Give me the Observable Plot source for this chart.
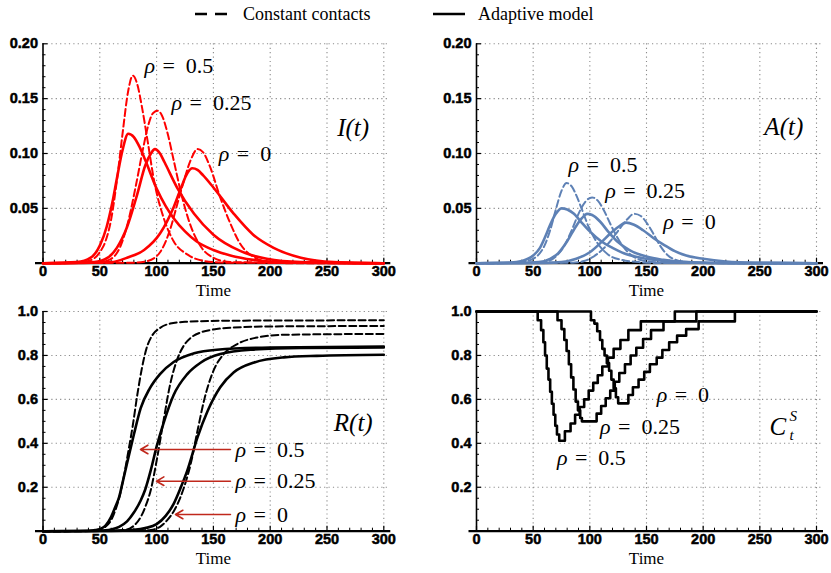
<!DOCTYPE html>
<html>
<head>
<meta charset="utf-8">
<script src="https://cdn.jsdelivr.net/npm/d3@7"></script>
<script src="https://cdn.jsdelivr.net/npm/@observablehq/plot@0.6"></script>
<style>
html, body { margin: 0; padding: 0; background: #fff; }
#chart { position: relative; width: 831px; height: 573px; overflow: hidden; background: #fff; }
</style>
</head>
<body>
<div id="chart"></div>
<script>
// ---------- ticks ----------
const xTicks = [0, 50, 100, 150, 200, 250, 300];
const xMinorTicks = [10,20,30,40,60,70,80,90,110,120,130,140,160,170,180,190,210,220,230,240,260,270,280,290];
const topYTicks = [0.05, 0.10, 0.15, 0.20];
const topYMinor = [0.01,0.02,0.03,0.04,0.06,0.07,0.08,0.09,0.11,0.12,0.13,0.14,0.16,0.17,0.18,0.19];
const bottomYTicks = [0.2, 0.4, 0.6, 0.8, 1.0];
const bottomYMinor = [0.05,0.1,0.15,0.25,0.3,0.35,0.45,0.5,0.55,0.65,0.7,0.75,0.85,0.9,0.95];
const legendLabels = ["Constant contacts", "Adaptive model"];
const rhoValues = ["0.5", "0.25", "0"];

// ---------- I(t) ----------
const iConst05 = [[0,0],[30,0.0005],[40,0.002],[50,0.01],[55,0.02],[60,0.04],[65,0.075],[70,0.118],[75,0.157],[79,0.171],[83,0.163],[87,0.143],[92,0.112],[98,0.074],[106,0.042],[115,0.02],[127,0.008],[142,0.002],[160,0.0005],[300,0]];
const iConst025 = [[0,0],[50,0.001],[60,0.004],[68,0.015],[75,0.038],[82,0.072],[88,0.104],[93,0.127],[97,0.137],[101,0.139],[105,0.134],[110,0.117],[115,0.094],[122,0.062],[130,0.034],[139,0.015],[150,0.005],[165,0.001],[300,0]];
const iConst0 = [[0,0],[80,0.0005],[92,0.002],[103,0.01],[112,0.031],[118,0.053],[124,0.075],[130,0.094],[136,0.104],[141,0.101],[147,0.088],[156,0.06],[165,0.036],[174,0.017],[185,0.006],[197,0.0015],[215,0],[300,0]];
const iAdapt05 = [[0,0],[30,0.001],[42,0.005],[50,0.016],[56,0.033],[61,0.055],[65,0.077],[70,0.103],[75,0.118],[80,0.115],[85,0.106],[90,0.094],[100,0.068],[108,0.052],[115,0.041],[125,0.029],[135,0.02],[150,0.012],[165,0.007],[185,0.003],[210,0.001],[250,0.0002],[300,0]];
const iAdapt025 = [[0,0],[45,0.001],[57,0.005],[65,0.014],[74,0.033],[83,0.063],[90,0.089],[95,0.1],[98.5,0.104],[103,0.1],[107,0.092],[118,0.069],[133,0.045],[150,0.026],[174,0.011],[197,0.004],[227,0.001],[300,0]];
const iAdapt0 = [[0,0],[60,0.001],[74,0.005],[89,0.012],[103,0.027],[115,0.051],[122,0.07],[127,0.082],[131.5,0.0865],[136,0.085],[141,0.08],[150,0.069],[168,0.045],[185,0.026],[203,0.014],[227,0.005],[256,0.001],[300,0]];

// ---------- A(t) ----------
const aConst05 = [[0,0],[30,0.0002],[40,0.001],[50,0.004],[55,0.008],[60,0.016],[65,0.03],[70,0.049],[75,0.066],[79.5,0.073],[84,0.07],[88,0.062],[93,0.049],[99,0.033],[107,0.018],[116,0.008],[128,0.003],[143,0.001],[160,0.0002],[300,0]];
const aConst025 = [[0,0],[50,0.0003],[60,0.001],[70,0.006],[77,0.015],[84,0.03],[90,0.045],[96,0.056],[102,0.06],[107,0.057],[112,0.049],[118,0.036],[124,0.024],[131,0.013],[140,0.005],[152,0.0015],[170,0.0002],[300,0]];
const aConst0 = [[0,0],[85,0.0005],[95,0.002],[106,0.008],[118,0.02],[126,0.031],[133,0.04],[139,0.045],[145,0.043],[150,0.037],[156,0.027],[162,0.016],[168,0.008],[176,0.003],[188,0.0007],[205,0],[300,0]];
const aAdapt05 = [[0,0],[30,0.0005],[40,0.002],[50,0.007],[56,0.014],[61,0.025],[65,0.035],[70,0.045],[75,0.05],[80,0.049],[86,0.045],[92,0.038],[100,0.029],[110,0.02],[120,0.014],[130,0.009],[145,0.005],[165,0.002],[190,0.0007],[230,0.0001],[300,0]];
const aAdapt025 = [[0,0],[40,0.0002],[55,0.001],[65,0.004],[72,0.009],[80,0.02],[88,0.034],[93,0.041],[97.5,0.045],[102,0.044],[109,0.038],[116,0.029],[124,0.02],[135,0.012],[150,0.006],[165,0.003],[190,0.0008],[220,0.0001],[300,0]];
const aAdapt0 = [[0,0],[60,0.0003],[75,0.001],[88,0.004],[100,0.01],[110,0.019],[118,0.027],[125,0.033],[132,0.037],[139,0.035],[147,0.03],[156,0.023],[165,0.017],[175,0.011],[185,0.007],[200,0.004],[220,0.0015],[245,0.0004],[300,0]];

// ---------- R(t) ----------
const rConst05 = [[0,0],[40,0.001],[46,0.004],[51,0.01],[55,0.02],[60,0.05],[64,0.1],[67,0.15],[71,0.245],[75,0.36],[79,0.48],[83,0.62],[87,0.74],[91,0.83],[96,0.89],[103,0.925],[112,0.945],[125,0.953],[160,0.958],[300,0.96]];
const rConst025 = [[0,0],[60,0.002],[74,0.008],[80,0.025],[86,0.064],[90,0.11],[95,0.19],[100,0.32],[106,0.5],[112,0.67],[118,0.78],[124,0.845],[130,0.88],[139,0.905],[150,0.918],[165,0.926],[200,0.932],[300,0.934]];
const rConst0 = [[0,0],[80,0.001],[95,0.006],[103,0.02],[109,0.048],[115,0.09],[121,0.155],[126,0.23],[130,0.306],[136,0.457],[142,0.6],[150,0.73],[159,0.806],[171,0.852],[189,0.882],[212,0.894],[300,0.898]];
const rAdapt05 = [[0,0],[40,0.002],[46,0.005],[51,0.012],[55,0.025],[60,0.065],[64,0.115],[67,0.155],[70,0.22],[74,0.31],[80,0.44],[86,0.56],[94,0.65],[103,0.715],[115,0.77],[133,0.81],[153,0.826],[200,0.836],[300,0.84]];
const rAdapt025 = [[0,0],[45,0.001],[55,0.004],[60,0.008],[67,0.02],[74,0.045],[80,0.085],[86,0.14],[90,0.19],[95,0.28],[100,0.385],[106,0.49],[115,0.62],[127,0.715],[139,0.768],[156,0.806],[183,0.826],[227,0.834],[300,0.836]];
const rAdapt0 = [[0,0],[60,0.001],[80,0.006],[90,0.014],[100,0.032],[108,0.07],[115,0.124],[121,0.195],[127,0.276],[136,0.427],[145,0.548],[156,0.655],[168,0.723],[186,0.768],[212,0.791],[241,0.798],[300,0.803]];

// ---------- C_t^S (step values: [start time, value]) ----------
const c05 = [[0,1],[54,0.96],[57,0.915],[59,0.86],[60.5,0.8],[62,0.74],[63.5,0.69],[65,0.635],[66.5,0.58],[68,0.53],[69.5,0.48],[71,0.44],[73,0.412],[78,0.455],[83,0.49],[87,0.53],[91,0.565],[95,0.6],[99,0.64],[103,0.675],[107,0.71],[111,0.75],[116,0.79],[121,0.83],[127,0.87],[134,0.915],[145,0.955],[175,1],[300,1]];
const c025 = [[0,1],[71.5,0.96],[75,0.92],[77.5,0.87],[79.5,0.82],[81.5,0.76],[83.5,0.7],[85.5,0.645],[87.5,0.59],[89.5,0.55],[91.5,0.515],[93,0.5],[106,0.535],[110,0.57],[114,0.605],[118,0.64],[122,0.68],[126,0.72],[131,0.76],[136,0.8],[141,0.835],[147,0.875],[154,0.915],[165,0.955],[194,1],[300,1]];
const c0 = [[0,1],[101,0.96],[104,0.945],[106.5,0.91],[109,0.87],[111,0.83],[113,0.8],[115,0.765],[117,0.73],[119,0.69],[121,0.65],[123,0.61],[125,0.582],[134,0.62],[138,0.655],[143,0.69],[148,0.725],[153,0.76],[159,0.79],[164,0.825],[170,0.86],[177,0.89],[185,0.92],[196,0.955],[228,1],[300,1]];

// ---------- annotation anchors (data coordinates) ----------
const iLabelPos = [[89.3,0.1796],[113.1,0.146],[154.8,0.0997]];
const aLabelPos = [[81.2,0.09],[113.5,0.0655],[164.8,0.0374]];
const rLabelPos = [[169.5,0.372],[169.5,0.2276],[169.5,0.076]];
const rArrowTips = [85.8, 99.9, 116.6];
const rArrowStart = 165;
const cLabelPos = [[71,0.333],[109,0.473],[159,0.622]];

// ---------- layout helpers ----------
const serif = "'Liberation Serif', 'Times New Roman', serif";
const sans = "'Liberation Sans', Arial, Helvetica, sans-serif";
const RED = "#ff0000", BLUE = "#5e81b5", BLACK = "#000000";

function toRows(pairs, key) { return pairs.map(([t, v]) => ({t, v, key})); }

const chart = document.getElementById("chart");

function panel(cfg) {
  const {left, top, width, height, mL, mR, mT, mB, yMax, yTicks, yMinor, yFormat, dashed, solid, color, curve, extra} = cfg;
  const fw = width - mL - mR, fh = height - mT - mB;
  const gridStyle = {stroke: "#8c8c8c", strokeWidth: 1.1, strokeDasharray: "1.2,3.2"};
  const marks = [
    Plot.ruleX(xTicks.filter(d => d > 0), {x: d => d, ...gridStyle}),
    Plot.ruleY(yTicks, {y: d => d, insetRight: -6, ...gridStyle}),
    Plot.tickX(xMinorTicks, {x: d => d, insetTop: fh - 3, stroke: BLACK, strokeWidth: 1}),
    Plot.tickX(xTicks, {x: d => d, insetTop: fh - 5, stroke: BLACK, strokeWidth: 1.2}),
    Plot.tickY(yMinor, {y: d => d, insetRight: fw - 3, stroke: BLACK, strokeWidth: 1}),
    Plot.tickY(yTicks, {y: d => d, insetRight: fw - 5, stroke: BLACK, strokeWidth: 1.2}),
    Plot.ruleX([0], {x: d => d, stroke: BLACK, strokeWidth: 1.6}),
    Plot.ruleY([0], {y: d => d, insetLeft: -7.5, insetRight: -7, stroke: BLACK, strokeWidth: 2.2}),
  ];
  if (dashed) marks.push(Plot.line(dashed, {x: "t", y: "v", z: "key", stroke: color, strokeWidth: 2, strokeDasharray: "7,3.5", curve}));
  if (solid) marks.push(Plot.line(solid, {x: "t", y: "v", z: "key", stroke: color, strokeWidth: 2.6, curve}));
  marks.push(
    Plot.axisX({ticks: xTicks, tickSize: 0, tickPadding: 3, fontSize: 14.5, fontWeight: "bold", fontFamily: sans, label: null}),
    Plot.axisY({ticks: yTicks, tickSize: 0, tickPadding: 5, tickFormat: yFormat, fontSize: 14.5, fontWeight: "bold", fontFamily: sans, label: null}),
    Plot.text(["Time"], {text: d => d, frameAnchor: "bottom", dy: 32.5, fontFamily: serif, fontSize: 17, fill: BLACK})
  );
  if (extra) marks.push(...extra);
  const svg = Plot.plot({
    width, height,
    marginLeft: mL, marginRight: mR, marginTop: mT, marginBottom: mB,
    x: {domain: [0, 300]},
    y: {domain: [0, yMax]},
    style: {background: "transparent", fontFamily: sans, fontSize: "14px", overflow: "visible", color: "#000"},
    marks
  });
  const s = d3.select(svg);
  s.selectAll('g[aria-label$="tick label"] text')
    .style("font-family", sans).style("font-weight", "bold").style("font-size", "14.5px")
    .style("stroke", "#000").style("stroke-width", "0.5px");
  s.selectAll('g[aria-label="text"] text').style("font-family", serif).style("font-weight", "normal");
  svg.style.position = "absolute";
  svg.style.left = left + "px";
  svg.style.top = top + "px";
  svg.style.maxWidth = "none";
  chart.appendChild(svg);
}

function rhoText(pos, size) {
  const rows = pos.map((p, i) => ({t: p[0], v: p[1], label: "=\u2002" + rhoValues[i]}));
  return [
    Plot.text(rows, {x: "t", y: "v", text: () => "ρ", textAnchor: "start", lineAnchor: "middle", fontFamily: serif, fontStyle: "italic", fontSize: size, fill: BLACK}),
    Plot.text(rows, {x: "t", y: "v", text: "label", textAnchor: "start", lineAnchor: "middle", dx: 18, fontFamily: serif, fontSize: size, fill: BLACK})
  ];
}
function funcText(label, t, v) {
  return Plot.text([{t, v, label}], {x: "t", y: "v", text: "label", textAnchor: "start", lineAnchor: "middle", fontFamily: serif, fontStyle: "italic", fontSize: 25, fill: BLACK});
}

const fmt2 = d3.format(".2f"), fmt1 = d3.format(".1f");
const top0 = {width: 415, height: 300, mL: 42.5, mR: 31.7, mT: 43.3, mB: 37.3, yMax: 0.2, yTicks: topYTicks, yMinor: topYMinor, yFormat: fmt2, curve: "monotone-x"};
const topR = {width: 416, height: 300, mL: 61, mR: 15, mT: 43.3, mB: 37.3, yMax: 0.2, yTicks: topYTicks, yMinor: topYMinor, yFormat: fmt2, curve: "monotone-x"};
const bot0 = {width: 415, height: 283, mL: 42.5, mR: 31.7, mT: 21, mB: 42.3, yMax: 1, yTicks: bottomYTicks, yMinor: bottomYMinor, yFormat: fmt1};
const botR = {width: 416, height: 283, mL: 61, mR: 15, mT: 21, mB: 42.3, yMax: 1, yTicks: bottomYTicks, yMinor: bottomYMinor, yFormat: fmt1};

// I(t)
panel({...top0, left: 0, top: 0, color: RED,
  dashed: [...toRows(iConst05, "c05"), ...toRows(iConst025, "c025"), ...toRows(iConst0, "c0")],
  solid: [...toRows(iAdapt05, "a05"), ...toRows(iAdapt025, "a025"), ...toRows(iAdapt0, "a0")],
  extra: [...rhoText(iLabelPos, 22), funcText("I(t)", 259, 0.123)]
});
// A(t)
panel({...topR, left: 415, top: 0, color: BLUE,
  dashed: [...toRows(aConst05, "c05"), ...toRows(aConst025, "c025"), ...toRows(aConst0, "c0")],
  solid: [...toRows(aAdapt05, "a05"), ...toRows(aAdapt025, "a025"), ...toRows(aAdapt0, "a0")],
  extra: [...rhoText(aLabelPos, 22), funcText("A(t)", 254, 0.124)]
});
// R(t)
panel({...bot0, left: 0, top: 290, color: BLACK, curve: "monotone-x",
  dashed: [...toRows(rConst05, "c05"), ...toRows(rConst025, "c025"), ...toRows(rConst0, "c0")],
  solid: [...toRows(rAdapt05, "a05"), ...toRows(rAdapt025, "a025"), ...toRows(rAdapt0, "a0")],
  extra: [
    Plot.arrow(rLabelPos.map((p, i) => ({t1: rArrowStart, t2: rArrowTips[i], v: p[1]})),
      {x1: "t1", x2: "t2", y1: "v", y2: "v", stroke: "#c0281c", strokeWidth: 1.6, headLength: 8}),
    ...rhoText(rLabelPos, 22), funcText("R(t)", 256, 0.4925)
  ]
});
// C_t^S
panel({...botR, left: 415, top: 290, color: BLACK, curve: "step-after",
  solid: [...toRows(c05, "c05"), ...toRows(c025, "c025"), ...toRows(c0, "c0")],
  extra: [
    ...rhoText(cLabelPos, 22),
    funcText("C", 258.6, 0.473),
    Plot.text([{t: 258.6, v: 0.473, label: "S"}], {x: "t", y: "v", text: "label", textAnchor: "start", lineAnchor: "middle", dx: 20, dy: -11, fontFamily: serif, fontStyle: "italic", fontSize: 15, fill: BLACK}),
    Plot.text([{t: 258.6, v: 0.473, label: "t"}], {x: "t", y: "v", text: "label", textAnchor: "start", lineAnchor: "middle", dx: 20, dy: 8, fontFamily: serif, fontStyle: "italic", fontSize: 15, fill: BLACK})
  ]
});

// Legend
const legend = d3.create("svg").attr("width", 831).attr("height", 30)
  .style("position", "absolute").style("left", "0px").style("top", "0px");
const legendItems = [
  {label: legendLabels[0], x1: 195, x2: 227, tx: 243, dash: "12,8"},
  {label: legendLabels[1], x1: 433, x2: 465, tx: 478, dash: null}
];
for (const it of legendItems) {
  const ln = legend.append("line").attr("x1", it.x1).attr("x2", it.x2).attr("y1", 14).attr("y2", 14)
    .attr("stroke", "#000").attr("stroke-width", 2.5);
  if (it.dash) ln.attr("stroke-dasharray", it.dash);
  legend.append("text").attr("x", it.tx).attr("y", 14).attr("dominant-baseline", "central")
    .attr("font-family", serif).attr("font-size", 18).attr("fill", "#000").text(it.label);
}
chart.appendChild(legend.node());
</script>
</body>
</html>
